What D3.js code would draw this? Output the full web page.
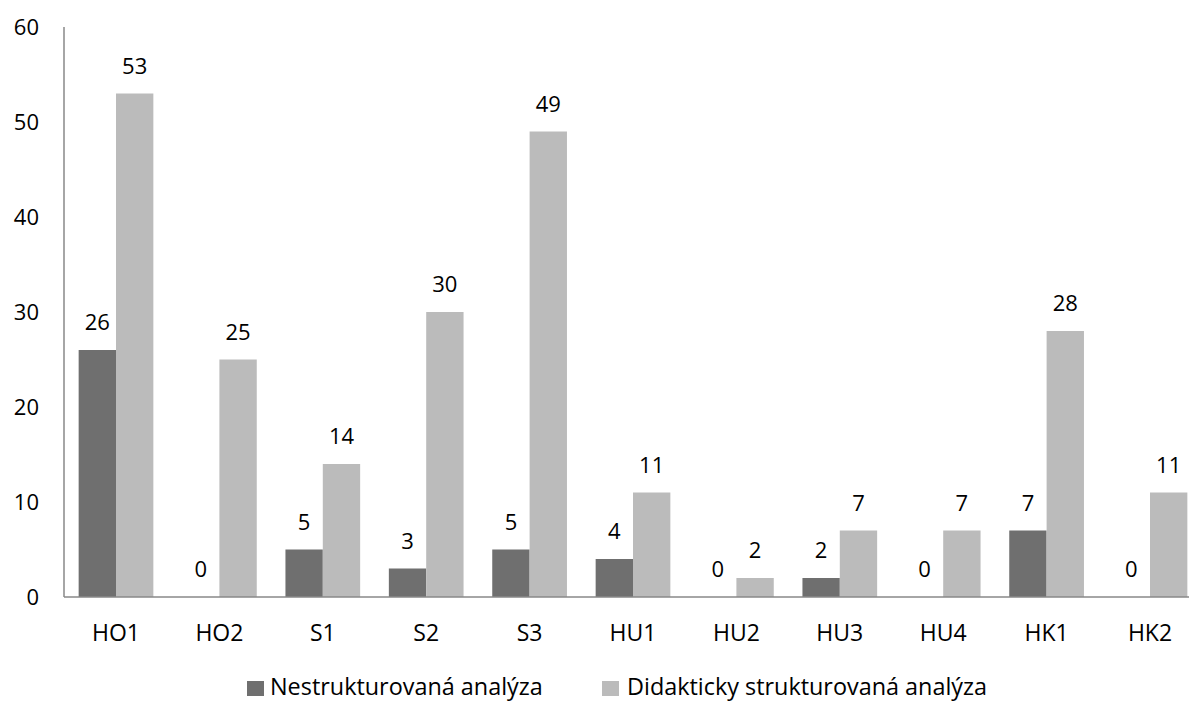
<!DOCTYPE html>
<html><head><meta charset="utf-8">
<script src="https://cdn.jsdelivr.net/npm/d3@7"></script>
<style>body{margin:0;background:#fff}svg{display:block}text{font-family:"Open Sans",sans-serif;fill:#000}</style>
</head><body>
<script>
const categories = ["HO1","HO2","S1","S2","S3","HU1","HU2","HU3","HU4","HK1","HK2"];
const nestrukturovana = [26,0,5,3,5,4,0,2,0,7,0];
const didakticky = [53,25,14,30,49,11,2,7,7,28,11];
const seriesNames = ["Nestrukturovaná analýza","Didakticky strukturovaná analýza"];
const yTicks = [0,10,20,30,40,50,60];

const W=1189,H=701;
const svg=d3.select("body").append("svg").attr("width",W).attr("height",H);
const x=d3.scaleBand().domain(categories).range([64.3,1201.7]).paddingInner(0.2775).paddingOuter(0.13875);
const x1=d3.scaleBand().domain([0,1]).range([0,x.bandwidth()]);
const y=d3.scaleLinear().domain([0,60]).range([597,27]);
const colors=["#6f6f6f","#bbbbbb"];
const series=[nestrukturovana,didakticky];

svg.append("line").attr("x1",64).attr("x2",64).attr("y1",y(60)).attr("y2",y(0)).attr("stroke","#888").attr("stroke-width",1.5);
svg.selectAll(".yt").data(yTicks).join("text").attr("x",39).attr("y",d=>y(d)).attr("dy","0.35em")
  .attr("text-anchor","end").attr("font-size",22).text(d=>d);

series.forEach((vals,si)=>{
  svg.selectAll(".b"+si).data(vals).join("rect")
    .attr("x",(d,i)=>x(categories[i])+x1(si)).attr("width",x1.bandwidth())
    .attr("y",d=>y(d)).attr("height",d=>y(0)-y(d)).attr("fill",colors[si]);
  svg.selectAll(".l"+si).data(vals).join("text")
    .attr("x",(d,i)=>x(categories[i])+x1(si)+x1.bandwidth()/2).attr("y",d=>y(d)-20)
    .attr("text-anchor","middle").attr("font-size",22).text(d=>d);
});
svg.append("line").attr("x1",64).attr("x2",W).attr("y1",y(0)).attr("y2",y(0)).attr("stroke","#888").attr("stroke-width",1.5);
svg.selectAll(".xl").data(categories).join("text").attr("x",d=>x(d)+x.bandwidth()/2).attr("y",641)
  .attr("text-anchor","middle").attr("font-size",23).text(d=>d);
const leg=[{x:247,tx:270},{x:602,tx:627}];
seriesNames.forEach((n,i)=>{
  svg.append("rect").attr("x",leg[i].x).attr("y",681).attr("width",17).attr("height",15).attr("fill",colors[i]);
  svg.append("text").attr("x",leg[i].tx).attr("y",695).attr("font-size",23.4).text(n);
});
</script>
</body></html>
